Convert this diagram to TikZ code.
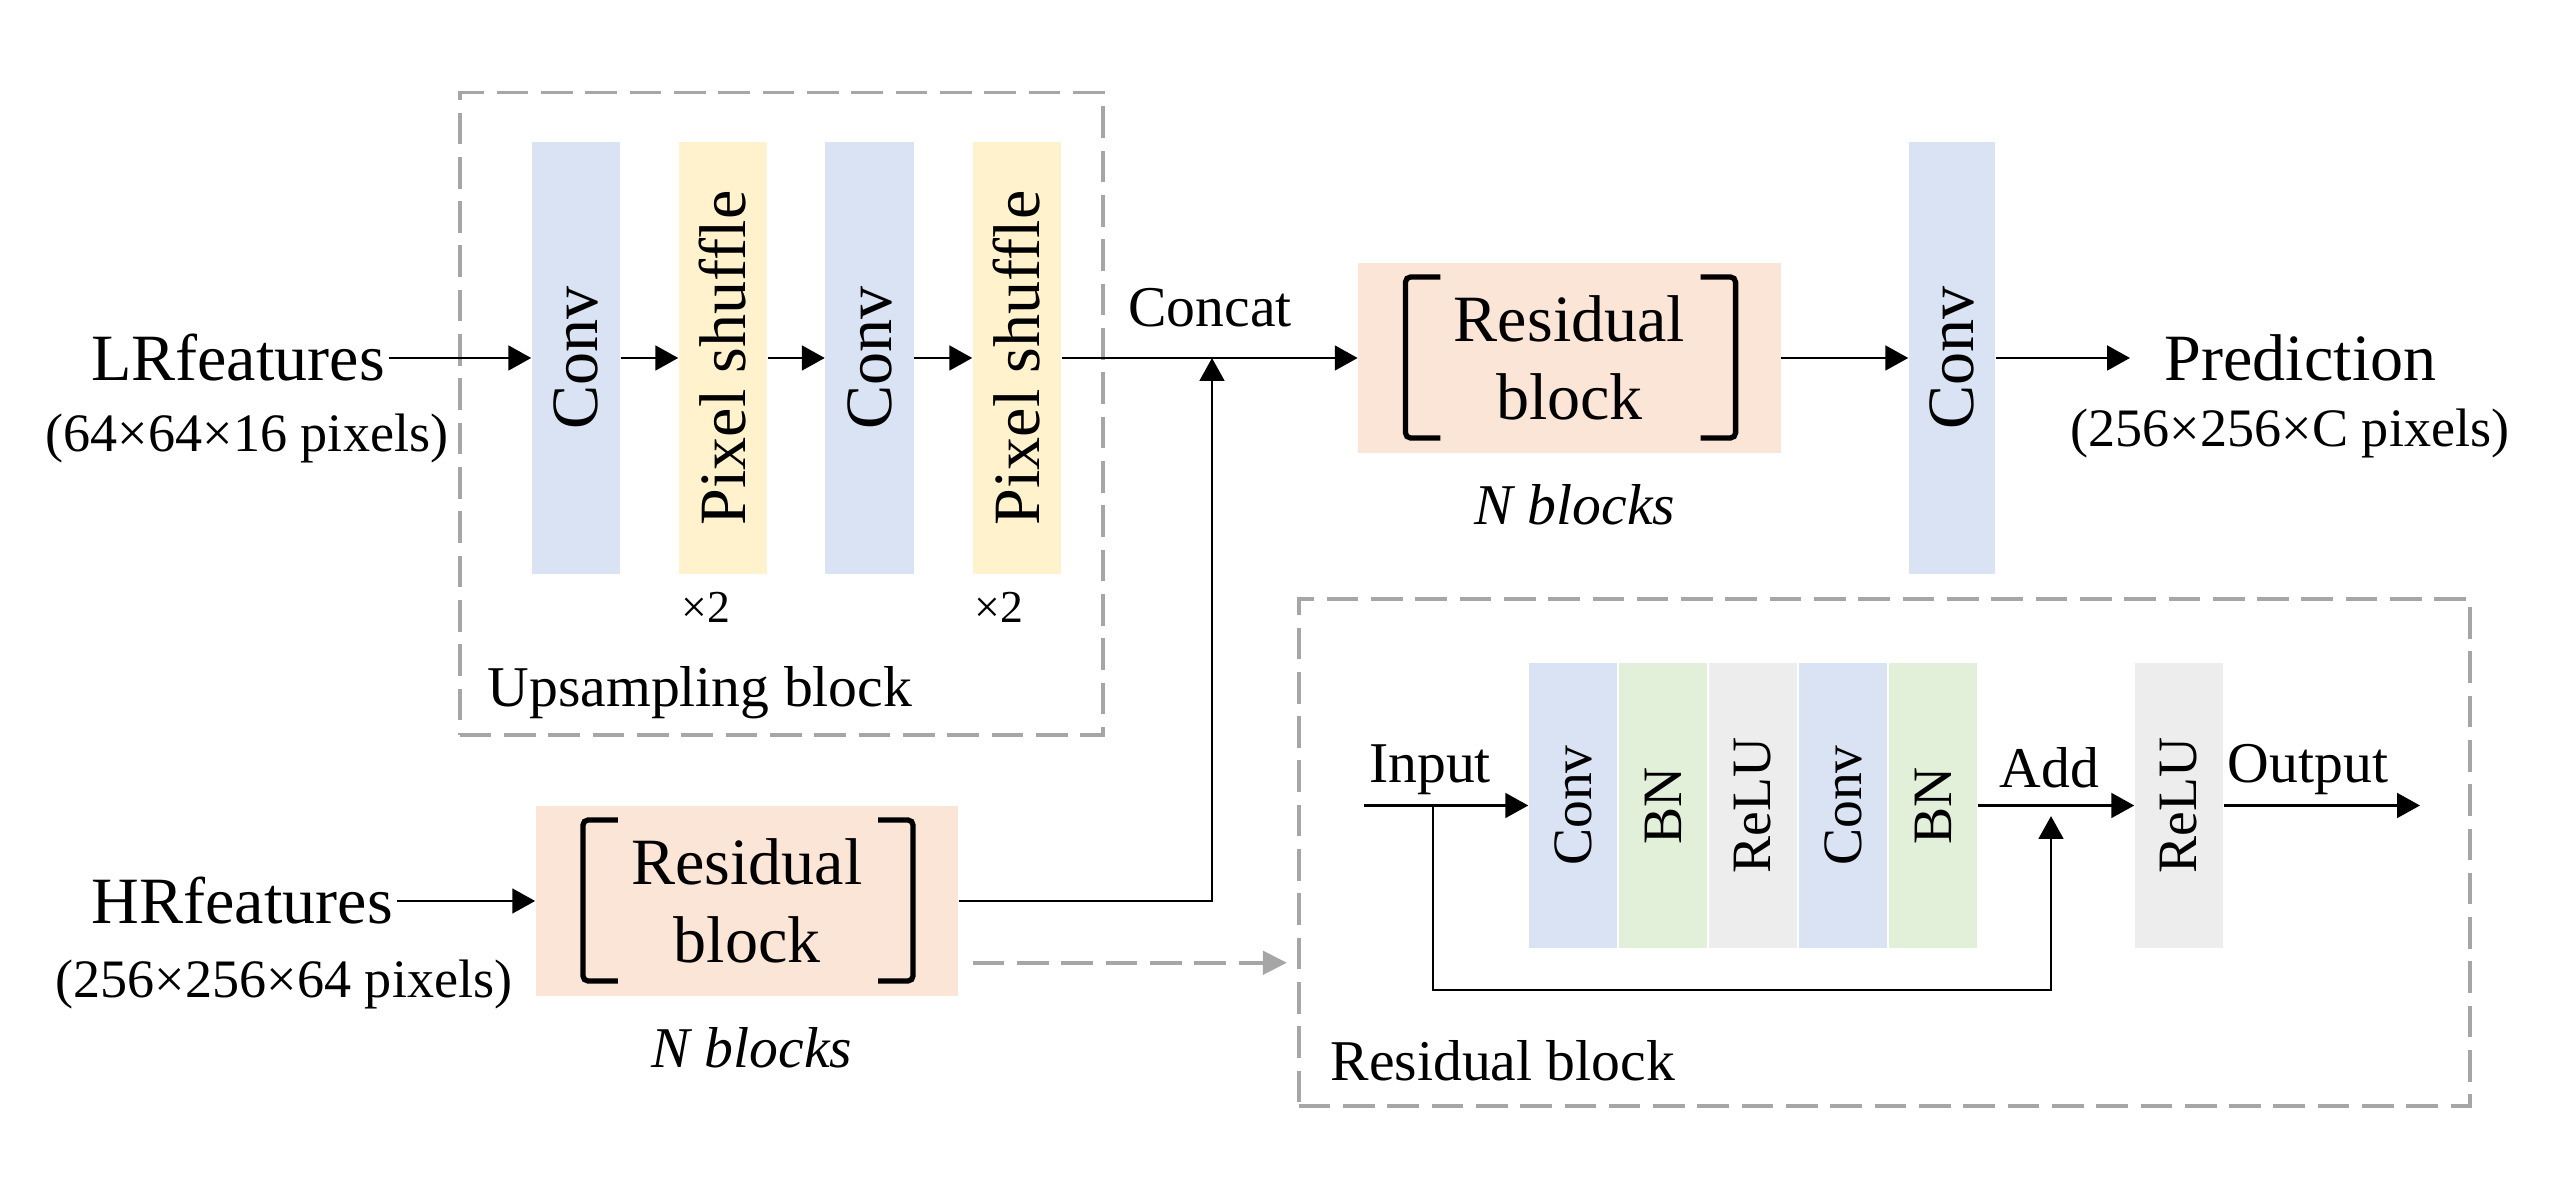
\documentclass[tikz,border=0pt]{standalone}
\usepackage{fontspec}
\setmainfont{Liberation Serif}
\usepackage{graphicx}
\usetikzlibrary{arrows.meta}

\definecolor{convblue}{HTML}{DAE3F3}
\definecolor{shuffleyellow}{HTML}{FFF2CC}
\definecolor{resorange}{HTML}{FBE5D6}
\definecolor{bngreen}{HTML}{E2F0D9}
\definecolor{relugray}{HTML}{EDEDED}
\definecolor{framegray}{HTML}{A6A6A6}

\newcommand{\bigfont}{\fontsize{18.8}{22.2}\selectfont}
\newcommand{\midfont}{\fontsize{16.4}{19.7}\selectfont}
\newcommand{\dimfont}{\fontsize{15.4}{18.5}\selectfont}
\newcommand{\layerfont}{\fontsize{15.8}{18.9}\selectfont}
\newcommand{\xtwofont}{\fontsize{13}{15.6}\selectfont}

\begin{document}
\begin{tikzpicture}[x=0.01cm, y=-0.01cm,
    % === KIỂU KHỐI ===
    layer/.style={inner sep=0pt, minimum width=0.88cm, minimum height=4.32cm, font=\bigfont},
    conv layer/.style={layer, fill=convblue},
    shuffle layer/.style={layer, fill=shuffleyellow},
    inner layer/.style={inner sep=0pt, minimum width=0.88cm, minimum height=2.85cm, font=\layerfont},
    res block/.style={fill=resorange, minimum width=4.22cm, minimum height=1.9cm,
        align=center, font=\bigfont, inner sep=0pt,
        path picture={
            \draw[line width=1.5pt, rounded corners=1.5pt]
                ([shift={(0.82cm,-0.14cm)}]path picture bounding box.north west) -- ++(-0.35cm,0cm)
                |- ([shift={(0.82cm,0.15cm)}]path picture bounding box.south west);
            \draw[line width=1.5pt, rounded corners=1.5pt]
                ([shift={(-0.80cm,-0.14cm)}]path picture bounding box.north east) -- ++(0.35cm,0cm)
                |- ([shift={(-0.80cm,0.15cm)}]path picture bounding box.south east);
        }},
    frame/.style={draw=framegray, line width=1.1pt, dash pattern=on 9pt off 3.6pt, inner sep=0pt},
    % === KIỂU CHỮ VÀ MŨI TÊN ===
    side text/.style={font=\bigfont, inner sep=1pt},
    small text/.style={anchor=base, inner sep=0pt},
    arr/.style={line width=0.8pt, -{Triangle[length=6.5pt, width=7pt]}},
    gray arr/.style={draw=framegray, line width=1.1pt, dash pattern=on 9pt off 3.6pt,
        -{Triangle[length=6.8pt, width=6.6pt]}},
]
    \useasboundingbox (0,0) rectangle (2551,1201);

    % === KHỐI UPSAMPLING ===
    \node[frame, minimum width=6.43cm, minimum height=6.425cm] (upframe) at (781.5,414) {};
    \node[conv layer] (conv1) at (576,358) {\rotatebox{90}{Conv}};
    \node[shuffle layer] (shuf1) at (723,358) {\rotatebox{90}{Pixel shuffle}};
    \node[conv layer] (conv2) at (869.5,358) {\rotatebox{90}{Conv}};
    \node[shuffle layer] (shuf2) at (1017,358) {\rotatebox{90}{Pixel shuffle}};
    \node[small text, font=\xtwofont] (xtwo1) at (706,623) {×2};
    \node[small text, font=\xtwofont] (xtwo2) at (999,623) {×2};
    \node[small text, anchor=base west, font=\midfont] (uplabel) at (487,707) {Upsampling block};

    % === ĐẦU VÀO ===
    \node[side text, anchor=east] (lr) at (389,358) {LRfeatures};
    \node[small text, font=\dimfont] (lrdim) at (247,452) {(64×64×16 pixels)};
    \node[side text, anchor=east] (hr) at (397,901) {HRfeatures};
    \node[small text, font=\dimfont] (hrdim) at (284,998) {(256×256×64 pixels)};

    % === KHỐI RESIDUAL ===
    \node[res block] (restop) at (1569.5,358) {Residual\\block};
    \node[small text, font=\midfont\itshape] (ntop) at (1575,525) {N blocks};
    \node[res block] (resbot) at (747,901) {Residual\\block};
    \node[small text, font=\midfont\itshape] (nbot) at (752,1068) {N blocks};

    % === NỐI VÀ ĐẦU RA ===
    \node[small text, font=\midfont] (concat) at (1210,327) {Concat};
    \coordinate (cat) at (1212,358);
    \node[conv layer, minimum width=0.86cm] (convout) at (1952,358) {\rotatebox{90}{Conv}};
    \node[side text, anchor=west, inner xsep=0.34cm] (pred) at (2130,358) {Prediction};
    \node[small text, font=\dimfont] (preddim) at (2290,447) {(256×256×C pixels)};

    % === MŨI TÊN PHÍA TRÊN ===
    \draw[arr] (lr) -- (conv1);
    \draw[arr] (conv1) -- (shuf1);
    \draw[arr] (shuf1) -- (conv2);
    \draw[arr] (conv2) -- (shuf2);
    \draw[arr] (shuf2) -- (restop);
    \draw[arr] (restop) -- (convout);
    \draw[arr] (convout) -- (pred);
    \draw[arr] (hr) -- (resbot);
    \draw[arr] (resbot) -| (cat);

    % === CHI TIẾT RESIDUAL BLOCK ===
    \node[frame, minimum width=11.71cm, minimum height=5.075cm] (resframe) at (1884.5,852.5) {};
    \coordinate (dashstart) at ([shift={(14,-34)}]resbot.south east);
    \draw[gray arr, shorten >=2.8pt] (dashstart) -- (dashstart -| resframe.west);

    \foreach \name/\txt/\col [count=\i from 0] in
        {rc1/Conv/convblue, rb1/BN/bngreen, rr1/ReLU/relugray, rc2/Conv/convblue, rb2/BN/bngreen}
        \node[inner layer, fill=\col] (\name) at ({1573+90*\i},805.5) {\rotatebox{90}{\txt}};
    \node[inner layer, fill=relugray] (rr2) at (2179,805.5) {\rotatebox{90}{ReLU}};

    \coordinate (inp) at (1364,805.5);
    \coordinate (split) at (1433,805.5);
    \coordinate (skipdown) at (1433,990);
    \coordinate (add) at (2051,805.5);
    \coordinate (outp) at (2420,805.5);

    \node[small text, font=\midfont] (inputlbl) at (1430,783) {Input};
    \node[small text, font=\midfont] (addlbl) at (2049.5,788) {Add};
    \node[small text, font=\midfont] (outlbl) at (2308,783) {Output};
    \node[small text, anchor=base west, font=\midfont] (reslbl) at (1330,1081) {Residual block};

    \draw[arr] (inp) -- (rc1);
    \draw[arr] (rb2) -- (rr2);
    \draw[arr] (rr2) -- (outp);
    \draw[arr, shorten >=3pt] (split) -- (skipdown) -| (add);

\end{tikzpicture}
\end{document}
